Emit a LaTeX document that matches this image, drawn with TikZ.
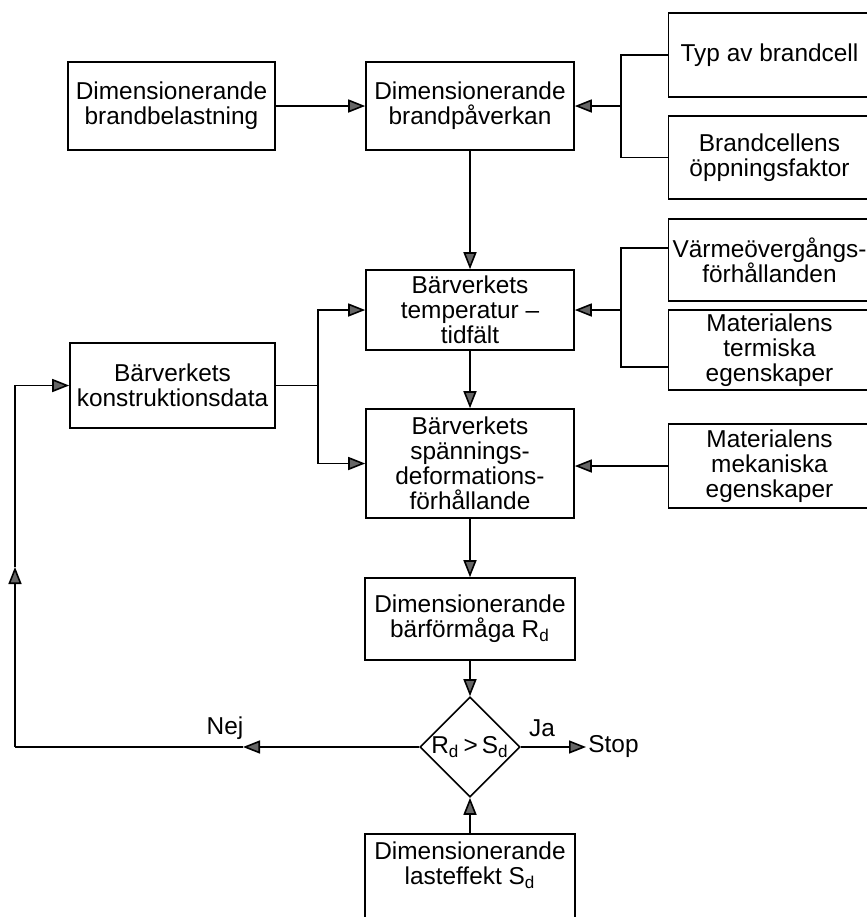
\documentclass[tikz,border=0pt]{standalone}
\usepackage{fontspec}
\setmainfont{Liberation Sans}
\usetikzlibrary{arrows.meta, shapes.geometric}
\tikzset{
    box/.style={
        draw,
        line width=0.8pt, % tunn ram
        align=center,
        minimum width=104pt,
        minimum height=42pt,
        inner sep=1pt,
        font=\fontsize{12.2}{12.5}\selectfont
    },
    sidebox/.style={
        box,
        minimum width=101pt
    },
    testbox/.style={
        diamond,
        draw,
        line width=0.8pt,
        aspect=1,
        minimum width=50pt,
        minimum height=50pt,
        inner sep=0pt,
        font=\fontsize{12.2}{12.5}\selectfont
    },
    etikett/.style={
        inner sep=1pt,
        font=\fontsize{12.2}{12.5}\selectfont
    },
    linje/.style={line width=0.8pt},
    pil/.style={
        line width=0.8pt,
        -{Triangle[length=8.5pt,width=6.5pt,fill=black!60]}
    }
}
\begin{document}
\begin{tikzpicture}[x=0.5pt, y=-0.5pt]
    \useasboundingbox (0,0) rectangle (867,917);
    % huvudkedjan
    \node (load) [box, minimum width=103.5pt, minimum height=44pt] at (171.5,106) {Dimensionerande\\brandbelastning};
    \node (effect) [box, minimum height=44pt] at (470,106) {Dimensionerande\\brandp\aa verkan};
    \node (temp) [box, minimum height=40pt] at (470,310) {B\"arverkets\\temperatur --\\tidf\"alt};
    \node (stress) [box, minimum height=54.5pt] at (470,463.5) {B\"arverkets\\sp\"annings-\\deformations-\\f\"orh\aa llande};
    \node (konst) [box, minimum width=102.5pt, minimum height=42.5pt] at (172.5,385.5) {B\"arverkets\\konstruktionsdata};
    \node (capacity) [box, minimum width=105pt, minimum height=41pt] at (470,619) {Dimensionerande\\b\"arf\"orm\aa ga R\textsubscript{d}};
    \node (decision) [testbox] at (470,747) {R\textsubscript{d}\,>\,S\textsubscript{d}};
    \node (lasteffekt) [box, anchor=north, minimum width=105pt, inner ysep=4pt, text depth=40pt] at (470,833) {Dimensionerande\\lasteffekt S\textsubscript{d}};
    \node (stop) [etikett, anchor=west] at (586,747) {Stop};
    \node (ja) [etikett] at (542,728) {Ja};
    \node (nejtext) [etikett] at (225,728) {Nej};

    % indata till h\"oger
    \node (celltype) [sidebox, minimum height=42pt] at (769.5,55) {Typ av brandcell};
    \node (opening) [sidebox, minimum height=41.5pt] at (769.5,157.5) {Brandcellens\\\"oppningsfaktor};
    \node (heat) [sidebox, minimum height=41pt] at (769.5,260) {V\"arme\"overg\aa ngs-\\f\"orh\aa llanden};
    \node (thermal) [sidebox, minimum height=40pt] at (769.5,350) {Materialens\\termiska\\egenskaper};
    \node (mech) [sidebox, minimum height=42pt] at (769.5,466) {Materialens\\mekaniska\\egenskaper};

    \coordinate (j1) at (621,106);
    \coordinate (j2) at (621,310);
    \coordinate (j3) at (318,385.5);
    \coordinate (nej) at (243,747);
    \coordinate (hornNed) at (15,747);
    \coordinate (upp) at (15,567);

    % pilar
    \draw[pil] (load.east) -- (effect.west);
    \draw[linje] (celltype.west) -| (j1) |- (opening.west);
    \draw[pil] (j1) -- (effect.east);
    \draw[linje] ([yshift=6pt]heat.west) -| (j2) |- ([yshift=-8.5pt]thermal.west);
    \draw[pil] (j2) -- (temp.east);
    \draw[pil] (mech.west) -- (mech.west -| stress.east);
    \draw[pil] (effect.south) -- (temp.north);
    \draw[pil] (temp.south) -- (stress.north);
    \draw[pil] (stress.south) -- (capacity.north);
    \draw[pil] (capacity.south) -- (decision.north);
    \draw[pil] (lasteffekt.north) -- (decision.south);
    \draw[pil] (decision.east) -- (stop.west);
    \draw[linje] (konst.east) -- (j3);
    \draw[pil] (j3) |- (temp.west);
    \draw[pil] (j3) |- (stress.west);
    % \aa terkoppling
    \draw[pil] (decision.west) -- (nej);
    \draw[linje] (nej) -- (hornNed);
    \draw[pil] (hornNed) -- (upp);
    \draw[pil] (upp) |- (konst.west);
\end{tikzpicture}
\end{document}
